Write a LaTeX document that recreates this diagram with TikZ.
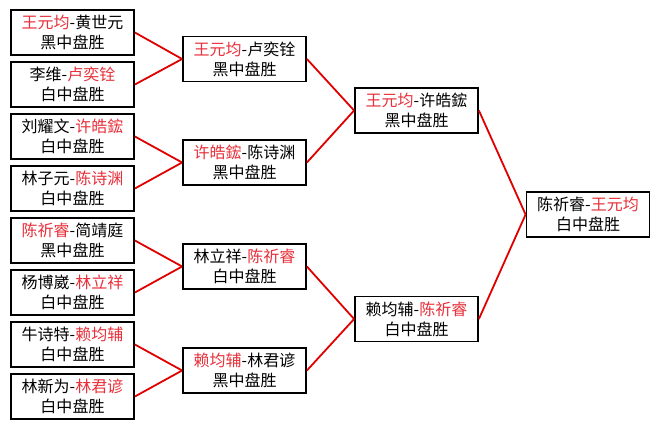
\documentclass[tikz,border=0pt]{standalone}
\usepackage{fontspec}
\setmainfont{Noto Sans CJK SC}
\definecolor{wred}{HTML}{E8303A}
\definecolor{lred}{HTML}{E00000}
\newcommand\W[1]{\textcolor{wred}{#1}}
\tikzset{
  game/.style={draw=black, line width=1.8bp, minimum width=123bp, minimum height=45bp,
    inner sep=0pt, align=center, font=\fontsize{16bp}{20bp}\selectfont},
  link/.style={draw=lred, line width=1.8bp}
}
\begin{document}
\begin{tikzpicture}[x=1bp,y=-1bp]
\useasboundingbox[fill=white] (0,0) rectangle (659,429);
% round 1
\node[game] (a1) at (72.5,32.5)  {\W{王元均}-黄世元\\黑中盘胜};
\node[game] (a2) at (72.5,84.5)  {李维-\W{卢奕铨}\\白中盘胜};
\node[game] (a3) at (72.5,136.5) {刘耀文-\W{许皓鋐}\\白中盘胜};
\node[game] (a4) at (72.5,188.5) {林子元-\W{陈诗渊}\\白中盘胜};
\node[game] (a5) at (72.5,240.5) {\W{陈祈睿}-简靖庭\\黑中盘胜};
\node[game] (a6) at (72.5,292.5) {杨博崴-\W{林立祥}\\白中盘胜};
\node[game] (a7) at (72.5,344.5) {牛诗特-\W{赖均辅}\\白中盘胜};
\node[game] (a8) at (72.5,396.5) {林新为-\W{林君谚}\\白中盘胜};
% round 2
\node[game] (b1) at (244.5,59)  {\W{王元均}-卢奕铨\\黑中盘胜};
\node[game] (b2) at (244.5,162.5) {\W{许皓鋐}-陈诗渊\\黑中盘胜};
\node[game] (b3) at (244.5,266.5) {林立祥-\W{陈祈睿}\\白中盘胜};
\node[game] (b4) at (244.5,370.5) {\W{赖均辅}-林君谚\\黑中盘胜};
% round 3
\node[game] (c1) at (416.5,110.5) {\W{王元均}-许皓鋐\\黑中盘胜};
\node[game] (c2) at (416.5,319) {赖均辅-\W{陈祈睿}\\白中盘胜};
% final
\node[game] (d1) at (588,214.5) {陈祈睿-\W{王元均}\\白中盘胜};
% connectors
\draw[link] (a1.east) -- (b1.west);
\draw[link] (a2.east) -- (b1.west);
\draw[link] (a3.east) -- (b2.west);
\draw[link] (a4.east) -- (b2.west);
\draw[link] (a5.east) -- (b3.west);
\draw[link] (a6.east) -- (b3.west);
\draw[link] (a7.east) -- (b4.west);
\draw[link] (a8.east) -- (b4.west);
\draw[link] (b1.east) -- (c1.west);
\draw[link] (b2.east) -- (c1.west);
\draw[link] (b3.east) -- (c2.west);
\draw[link] (b4.east) -- (c2.west);
\draw[link] (c1.east) -- (d1.west);
\draw[link] (c2.east) -- (d1.west);
\end{tikzpicture}
\end{document}
